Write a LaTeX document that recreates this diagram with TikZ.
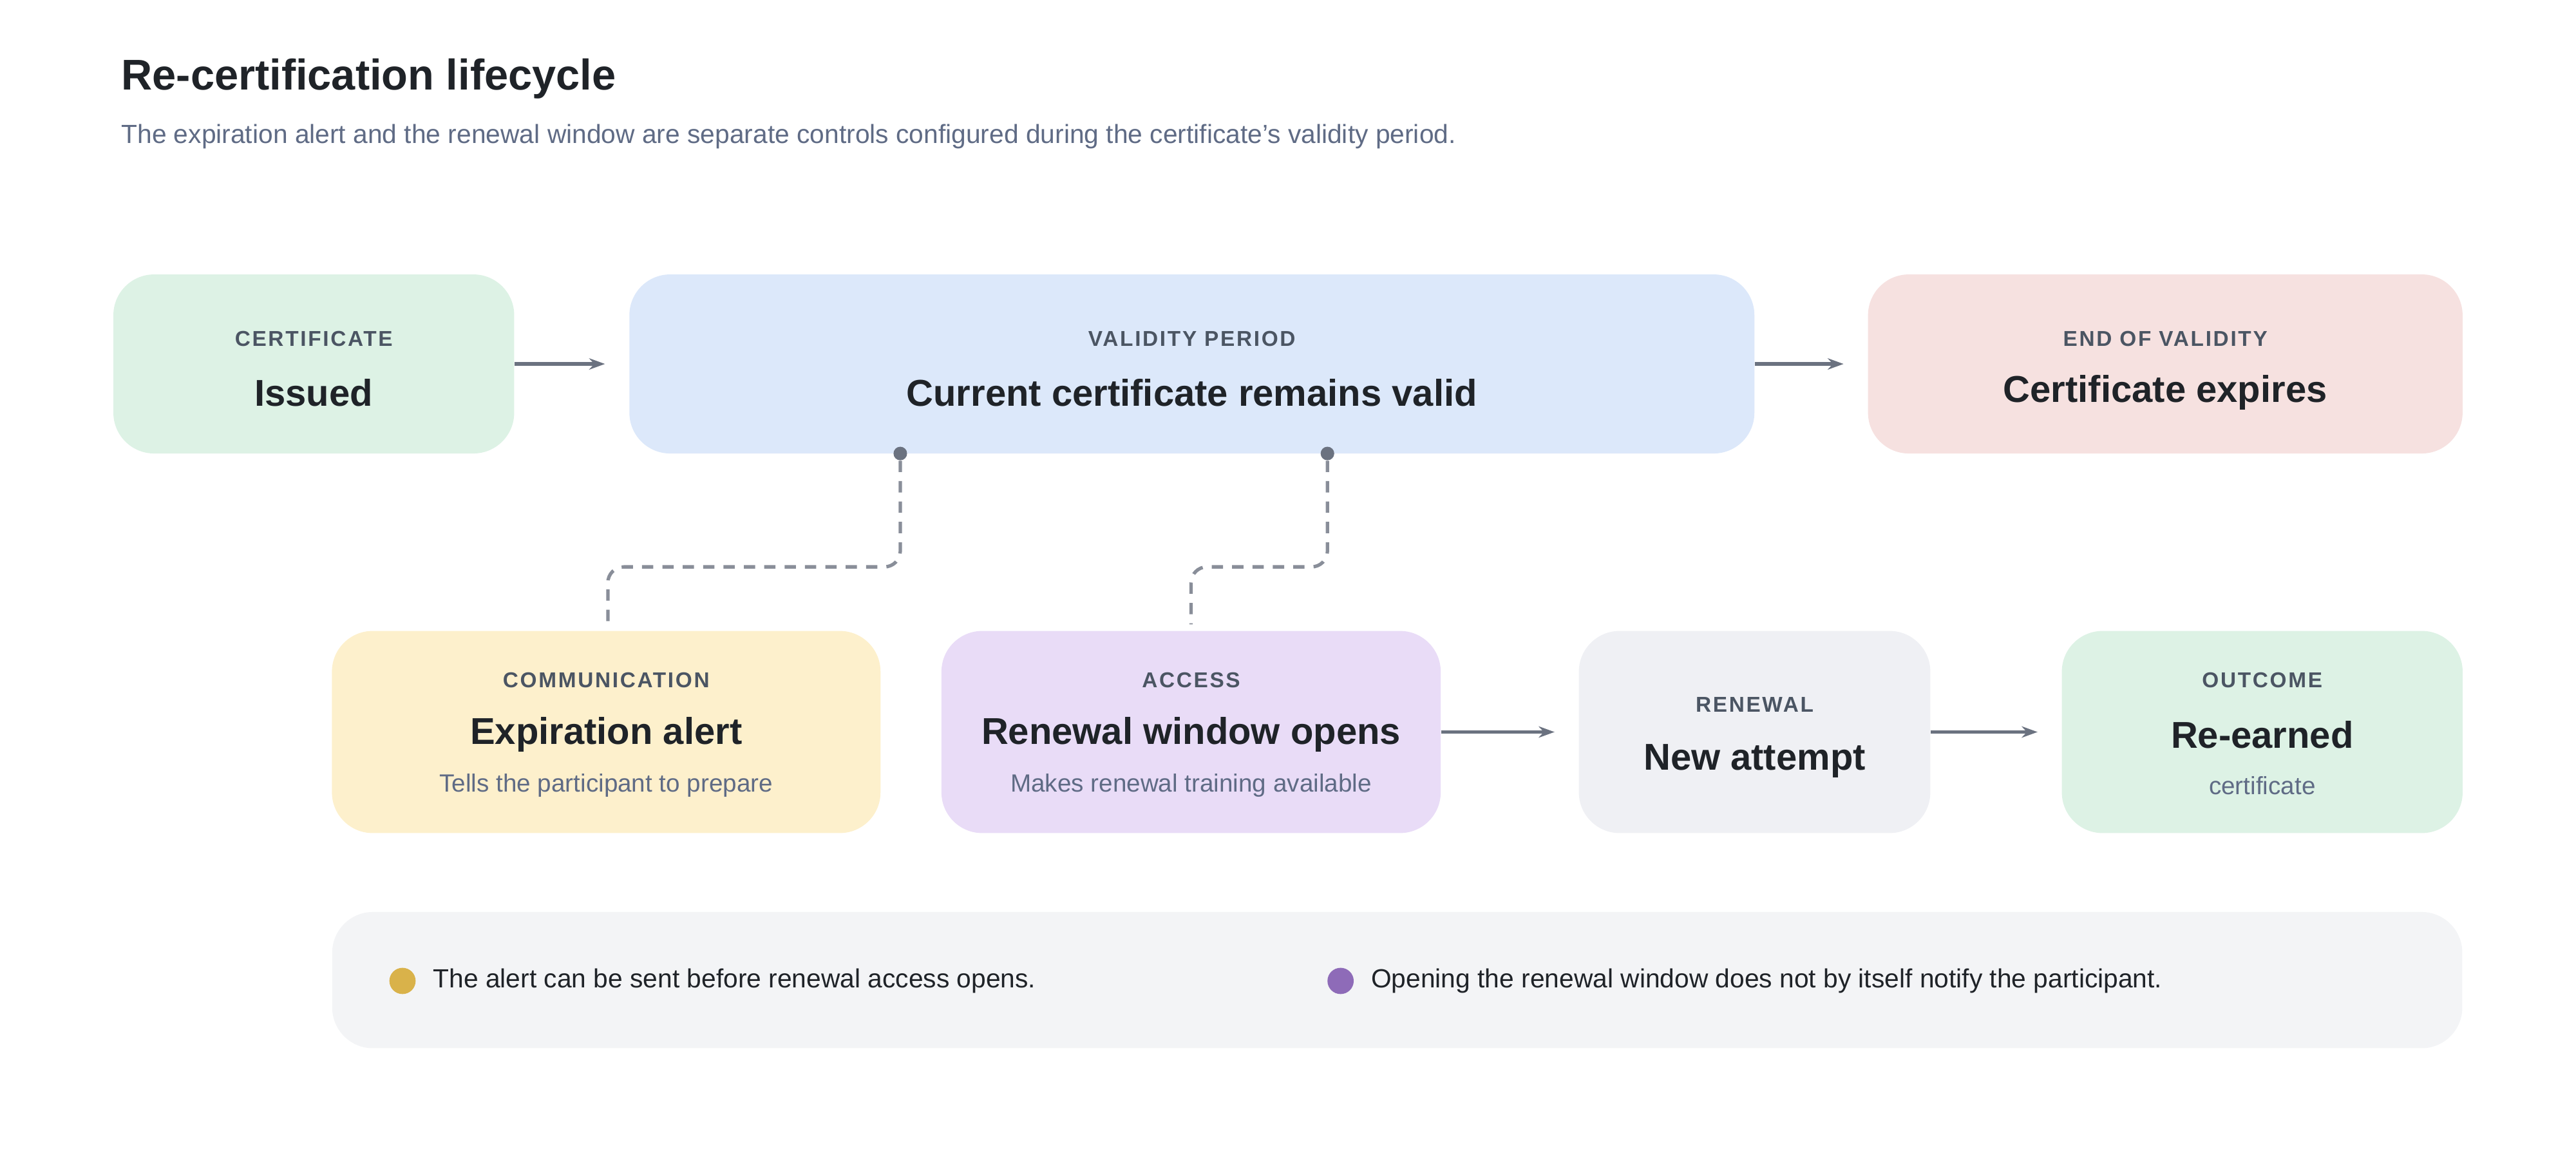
\documentclass[tikz,border=0pt]{standalone}
\usepackage{fontspec}
\setmainfont{Liberation Sans}
\usetikzlibrary{positioning,arrows.meta}
\definecolor{ink}{HTML}{1F2328}
\definecolor{muted}{HTML}{5F6B85}
\definecolor{tag}{HTML}{4B5563}
\definecolor{line}{HTML}{6B7280}
\definecolor{cgreen}{HTML}{DDF2E5}
\definecolor{cblue}{HTML}{DCE8FA}
\definecolor{cred}{HTML}{F6E1E0}
\definecolor{cyellow}{HTML}{FDF0CC}
\definecolor{cpurple}{HTML}{E9DCF7}
\definecolor{cgray}{HTML}{EFF0F4}
\definecolor{clegend}{HTML}{F3F4F6}
\definecolor{dyellow}{HTML}{D9B24A}
\definecolor{dpurple}{HTML}{8E6BB8}
\newcommand{\tagtxt}[1]{{\fontsize{9.5}{11}\selectfont\bfseries\addfontfeatures{LetterSpace=8}\color{tag}#1}}
\newcommand{\maintxt}[1]{{\fontsize{16.5}{19}\selectfont\bfseries\color{ink}#1}}
\newcommand{\subtxt}[1]{{\fontsize{11}{13}\selectfont\color{muted}#1}}

\begin{document}
\begin{tikzpicture}[x=0.02551cm, y=-0.02551cm,
    stage/.style={draw=none, rounded corners=18pt, inner sep=0pt, align=center},
    flow/.style={draw=line, line width=1.6pt, -{Stealth[length=7pt,width=5pt]}},
    link/.style={draw=line!80, line width=1.5pt, dash pattern=on 5pt off 4pt, rounded corners=7pt},
    pin/.style={circle, fill=line, inner sep=0pt, minimum size=6pt}]

    \useasboundingbox (0,0) rectangle (1568,705.6);

    % heading
    \node[anchor=west, font=\fontsize{19}{22}\selectfont\bfseries, text=ink] (title) at (69,48) {Re-certification lifecycle};
    \node[anchor=west, font=\fontsize{11.6}{14}\selectfont, text=muted] (subtitle) at (69,83) {The expiration alert and the renewal window are separate controls configured during the certificate’s validity period.};

    % top row
    \node[stage, fill=cgreen, minimum width=177.1pt, minimum height=79.1pt] (issued) at (191,221.5) {};
    \node[stage, fill=cblue, minimum width=497.1pt, minimum height=79.1pt] (valid) at (725.5,221.5) {};
    \node[stage, fill=cred, minimum width=262.7pt, minimum height=79.1pt] (expires) at (1318,221.5) {};

    % bottom row
    \node[stage, fill=cyellow, minimum width=242.4pt, minimum height=89.3pt] (alert) at (369,445.5) {};
    \node[stage, fill=cpurple, minimum width=220.6pt, minimum height=89.3pt] (window) at (725,445.5) {};
    \node[stage, fill=cgray, minimum width=155.3pt, minimum height=89.3pt] (attempt) at (1068,445.5) {};
    \node[stage, fill=cgreen, minimum width=177.1pt, minimum height=89.3pt] (outcome) at (1377,445.5) {};

    % legend
    \node[stage, fill=clegend, minimum width=941.2pt, minimum height=60.2pt] (legend) at (850.5,596.5) {};

    % texts
    \node at (191,206) {\tagtxt{CERTIFICATE}};
    \node at (191,239) {\maintxt{Issued}};
    \node at (725.5,206) {\tagtxt{VALIDITY PERIOD}};
    \node at (725.5,239) {\maintxt{Current certificate remains valid}};
    \node at (1318,206) {\tagtxt{END OF VALIDITY}};
    \node at (1318,239) {\maintxt{Certificate expires}};
    \node at (369,414) {\tagtxt{COMMUNICATION}};
    \node at (369,447) {\maintxt{Expiration alert}};
    \node at (369,478) {\subtxt{Tells the participant to prepare}};
    \node at (725,414) {\tagtxt{ACCESS}};
    \node at (725,447) {\maintxt{Renewal window opens}};
    \node at (725,478) {\subtxt{Makes renewal training available}};
    \node at (1068,429) {\tagtxt{RENEWAL}};
    \node at (1068,463) {\maintxt{New attempt}};
    \node at (1377,414) {\tagtxt{OUTCOME}};
    \node at (1377,447) {\maintxt{Re-earned}};
    \node at (1377,478) {\subtxt{certificate}};

    \node[circle, fill=dyellow, inner sep=0pt, minimum size=11.6pt] (dotA) at (245,597) {};
    \node[font=\fontsize{11.6}{14}\selectfont, text=ink, right=4pt of dotA] (noteA) {The alert can be sent before renewal access opens.};
    \node[circle, fill=dpurple, inner sep=0pt, minimum size=11.6pt] (dotB) at (816,597) {};
    \node[font=\fontsize{11.6}{14}\selectfont, text=ink, right=4pt of dotB] (noteB) {Opening the renewal window does not by itself notify the participant.};

    % flow arrows
    \draw[flow] (issued.east) -- ++(55,0);
    \draw[flow] (valid.east) -- ++(54,0);
    \draw[flow] (window.east) -- ++(69,0);
    \draw[flow] (attempt.east) -- ++(65,0);

    % dashed links
    \node[pin] (pinA) at (548,276) {};
    \node[pin] (pinB) at (808,276) {};
    \coordinate (endA) at (370,380);
    \coordinate (endB) at (725,380);
    \draw[link] (pinA) |- (459,345) -| (endA);
    \draw[link] (pinB) |- (766,345) -| (endB);

\end{tikzpicture}
\end{document}
